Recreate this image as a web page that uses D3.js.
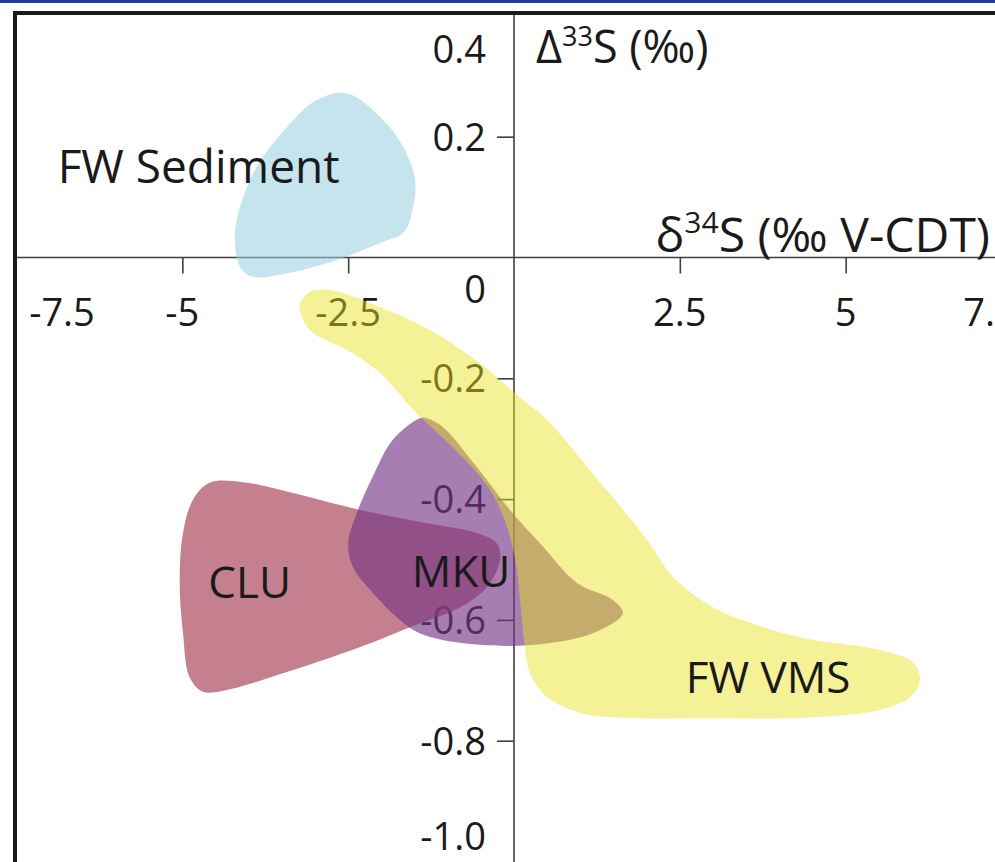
<!DOCTYPE html>
<html>
<head>
<meta charset="utf-8">
<script src="https://cdn.jsdelivr.net/npm/d3@7"></script>
<style>
  html, body { margin: 0; padding: 0; background: #fff; }
  svg { display: block; }
  text { font-family: "Open Sans", "DejaVu Sans", sans-serif; fill: #1a1a1a; }
</style>
</head>
<body>
<svg id="chart" width="995" height="862"></svg>
<script>
// Field outlines in data units: [δ34S (‰ V-CDT), Δ33S (‰)]
const fwSediment = [
  [-2.52, 0.272], [-2.02, 0.233], [-1.67, 0.183], [-1.49, 0.128], [-1.54, 0.074],
  [-1.67, 0.041], [-2.02, 0.024], [-2.67, -0.004], [-3.42, -0.026], [-3.94, -0.032],
  [-4.13, -0.016], [-4.21, 0.034], [-4.13, 0.084], [-3.88, 0.150], [-3.42, 0.216],
  [-2.97, 0.261]
];

const fwVms = [
  [-3.23, -0.079], [-3.08, -0.057], [-2.78, -0.054], [-2.02, -0.082], [-1.27, -0.120],
  [-0.51, -0.175], [0.05, -0.228], [0.50, -0.269], [1.30, -0.373], [1.49, -0.397],
  [2.01, -0.468], [2.40, -0.529], [3.00, -0.579], [3.76, -0.612], [4.51, -0.633],
  [5.52, -0.650], [6.02, -0.671], [6.12, -0.700], [5.97, -0.728], [5.52, -0.749],
  [4.51, -0.761], [3.00, -0.763], [1.49, -0.761], [1.00, -0.754], [0.50, -0.728],
  [0.24, -0.688], [0.15, -0.633], [0.09, -0.567], [0.02, -0.501], [-0.14, -0.435],
  [-0.36, -0.385], [-0.66, -0.344], [-1.04, -0.302], [-1.52, -0.252], [-2.02, -0.191],
  [-2.52, -0.153], [-3.03, -0.125], [-3.18, -0.103]
];

const mku = [
  [-1.42, -0.266], [-1.83, -0.302], [-2.13, -0.363], [-2.37, -0.423], [-2.50, -0.473],
  [-2.43, -0.512], [-2.13, -0.555], [-1.72, -0.600], [-1.42, -0.622], [-0.81, -0.638],
  [0.20, -0.642], [1.19, -0.622], [1.64, -0.589], [1.49, -0.567], [0.95, -0.539],
  [0.44, -0.479], [-0.06, -0.418], [-0.56, -0.347], [-1.07, -0.281], [-1.31, -0.266]
];

const clu = [
  [-4.59, -0.373], [-4.09, -0.372], [-3.33, -0.390], [-2.32, -0.418], [-1.31, -0.440],
  [-0.56, -0.456], [-0.26, -0.473], [-0.21, -0.501], [-0.41, -0.546], [-0.81, -0.579],
  [-1.57, -0.612], [-2.32, -0.645], [-3.33, -0.683], [-4.33, -0.716], [-4.69, -0.719],
  [-4.89, -0.695], [-4.99, -0.622], [-5.04, -0.539], [-4.99, -0.456], [-4.84, -0.401]
];

// Field names and where each name sits (data units)
const fieldNames = ["FW Sediment", "CLU", "MKU", "FW VMS"];
const fieldLabelPos = [[-6.88, 0.124], [-4.61, -0.564], [-1.54, -0.546], [2.59, -0.721]];

// Axis ticks and tick labels
const xTicks = [-5, -2.5, 2.5, 5];
const xTickLabels = [-7.5, -5, -2.5, 2.5, 5, 7.5];
const yTicks = [0.2, -0.2, -0.4, -0.6, -0.8];
const yTickLabels = [0.4, 0.2, -0.2, -0.4, -0.6, -0.8, -1.0];

const svg = d3.select("#chart");
const W = 995, H = 862;

const x = d3.scaleLinear().domain([-7.5, 7.5]).range([16.5, 1011.5]);
const y = d3.scaleLinear().domain([0.4, -1.0]).range([15.9, 861.5]);

// Page band and frame
svg.append("rect").attr("x", 0).attr("y", 0).attr("width", W).attr("height", 3)
  .attr("fill", "#213f94");
svg.append("rect").attr("x", 13).attr("y", 11).attr("width", W - 13).attr("height", 4)
  .attr("fill", "#1a1a1a");
svg.append("rect").attr("x", 13).attr("y", 11).attr("width", 4).attr("height", H - 11)
  .attr("fill", "#1a1a1a");

// Axes crossing at the origin
const axisColor = "#3f3f3f";
const xAxis = d3.axisBottom(x).tickValues(xTicks).tickSize(16).tickSizeOuter(0).tickFormat("");
const yAxis = d3.axisLeft(y).tickValues(yTicks).tickSize(17).tickSizeOuter(0).tickFormat("");

const gx = svg.append("g").attr("transform", `translate(0,${y(0)})`).call(xAxis);
gx.select(".domain").attr("d", `M17,0H${W}`);
const gy = svg.append("g").attr("transform", `translate(${x(0)},0)`).call(yAxis);
gy.select(".domain").attr("d", `M0,15V${H}`);
[gx, gy].forEach(g => {
  g.selectAll("path, line").attr("stroke", axisColor).attr("stroke-width", 1.6);
});

// Tick labels (the outermost ones are pulled inside the frame)
const fmtX = v => (v < 0 ? "-" : "") + d3.format("")(Math.abs(v));
svg.append("g").selectAll("text").data(xTickLabels).join("text")
  .attr("x", v => Math.min(Math.max(x(v), 62), 990))
  .attr("y", y(0) + 68)
  .attr("text-anchor", "middle")
  .attr("font-size", 38)
  .text(fmtX);

svg.append("g").selectAll("text").data(yTickLabels).join("text")
  .attr("x", x(0) - 28)
  .attr("y", v => Math.min(Math.max(y(v), 49), 836) + 14)
  .attr("text-anchor", "end")
  .attr("font-size", 38)
  .text(v => (v < 0 ? "-" : "") + d3.format(".1f")(Math.abs(v)));

// Origin label
svg.append("text")
  .attr("x", x(0) - 28).attr("y", y(0) + 45)
  .attr("text-anchor", "end").attr("font-size", 38)
  .text("0");

// Axis titles
const t1 = svg.append("text").attr("x", x(0) + 22).attr("y", 63).attr("font-size", 45);
t1.append("tspan").text("Δ");
t1.append("tspan").attr("font-size", 27).attr("dy", -17).text("33");
t1.append("tspan").attr("dy", 17).text("S (‰)");

const t2 = svg.append("text").attr("x", 990).attr("y", y(0) - 6)
  .attr("text-anchor", "end").attr("font-size", 48);
t2.append("tspan").text("δ");
t2.append("tspan").attr("font-size", 30).attr("dy", -19).text("34");
t2.append("tspan").attr("dy", 19).text("S (‰ V-CDT)");

// Fields
const area = d3.line()
  .x(d => x(d[0])).y(d => y(d[1]))
  .curve(d3.curveCatmullRomClosed.alpha(0.5));

const fields = [
  { pts: clu, fill: "rgb(171,74,95)", op: 0.70 },
  { pts: mku, fill: "rgb(116,53,133)", op: 0.64 },
  { pts: fwVms, fill: "rgb(233,225,29)", op: 0.465 },
  { pts: fwSediment, fill: "rgb(150,205,222)", op: 0.55 }
];
svg.append("g").selectAll("path").data(fields).join("path")
  .attr("d", f => area(f.pts))
  .attr("fill", f => f.fill)
  .attr("fill-opacity", f => f.op);

// Field names
svg.append("g").selectAll("text").data(fieldNames).join("text")
  .attr("x", (d, i) => x(fieldLabelPos[i][0]))
  .attr("y", (d, i) => y(fieldLabelPos[i][1]))
  .attr("font-size", (d, i) => i === 0 ? 46 : 44)
  .text(d => d);
</script>
</body>
</html>
